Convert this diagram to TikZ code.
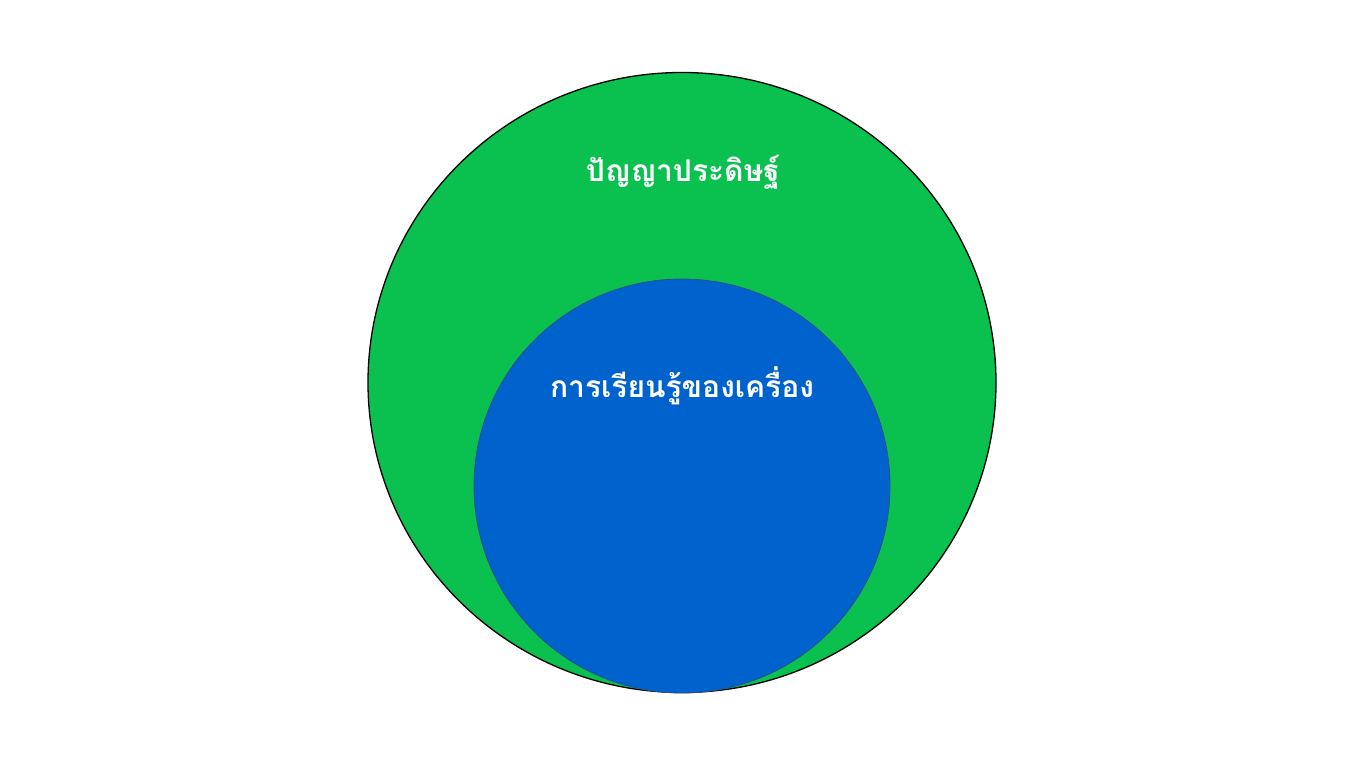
\documentclass[tikz,border=0pt]{standalone}
\usepackage{fontspec}
\newfontfamily\thaifont[Script=Thai]{Loma}
\definecolor{aigreen}{RGB}{10,193,80}
\definecolor{mlblue}{RGB}{0,98,204}
\definecolor{mledge}{RGB}{40,80,140}
\begin{document}
\begin{tikzpicture}[x=1pt,y=-1pt,
  outerset/.style={fill=aigreen,draw=black,line width=1.3pt},
  innerset/.style={fill=mlblue,draw=mledge,line width=0.8pt},
  setlabel/.style={text=white,font=\thaifont\bfseries\fontsize{30}{36}\selectfont,inner sep=0pt}]
\useasboundingbox (0,0) rectangle (1365,768);
\fill[white] (0,0) rectangle (1365,768);
\draw[outerset] (682,382.5) ellipse [x radius=314, y radius=310];
\draw[innerset] (682,486) ellipse [x radius=208, y radius=207];
\node[setlabel] (ai) at (683,172) {ปัญญาประดิษฐ์};
\node[setlabel] (ml) at (682,386) {การเรียนรู้ของเครื่อง};
\end{tikzpicture}
\end{document}
